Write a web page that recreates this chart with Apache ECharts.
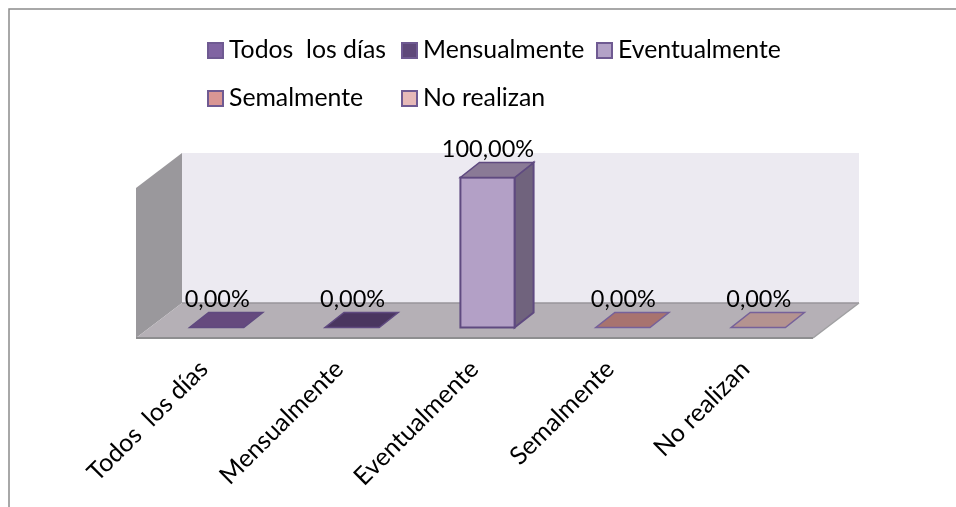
<!DOCTYPE html>
<html>
<head>
<meta charset="utf-8">
<style>html,body{margin:0;padding:0;background:#fff}#c{width:956px;height:507px}</style>
<script src="https://cdn.jsdelivr.net/npm/echarts@6/dist/echarts.min.js"></script>
</head>
<body>
<div id="c"></div>
<script>
const categories = ['Todos  los días', 'Mensualmente', 'Eventualmente', 'Semalmente', 'No realizan'];
const values = [0, 0, 100, 0, 0];
const valueLabels = ['0,00%', '0,00%', '100,00%', '0,00%', '0,00%'];
const legendColors = ['#8064A2', '#5F497A', '#B3A2C7', '#D99694', '#E6B9B8'];
const frontColors = ['#7A5F9A', '#5A4674', '#B3A0C6', '#C98C8A', '#D4AAA8'];
const topColors = ['#654A7E', '#4A3660', '#8A7A96', '#A8736F', '#B49390'];
const sideColors = ['#56406C', '#3E2D50', '#70637D', '#8C605C', '#967A78'];
const legendLefts = [207, 401, 596, 207, 401];
const legendTops = [38, 38, 38, 86, 86];

const FONT = 'Lato, "Noto Sans", sans-serif';
const DEPTH_X = 46, DEPTH_Y = 35;      // depth of the floor
const BAR_DX = 19, BAR_DY = 15;        // depth of a bar
const OFF_X = 13, OFF_Y = -10.5;       // bars stand in the middle of the floor

function poly(points, fill, stroke, lw) {
  return { type: 'polygon', shape: { points }, style: { fill, stroke: stroke || null, lineWidth: lw || 0 } };
}

function renderRoom(params) {
  const c = params.coordSys;
  const l = c.x, r = c.x + c.width, b = c.y + c.height, t = c.y;
  return {
    type: 'group',
    children: [
      poly([[l + DEPTH_X, t - DEPTH_Y], [r + DEPTH_X, t - DEPTH_Y], [r + DEPTH_X, b - DEPTH_Y], [l + DEPTH_X, b - DEPTH_Y]], '#ECEAF1'),
      poly([[l, t], [l + DEPTH_X, t - DEPTH_Y], [l + DEPTH_X, b - DEPTH_Y], [l, b]], '#9A989C'),
      poly([[l, b], [r, b], [r + DEPTH_X, b - DEPTH_Y], [l + DEPTH_X, b - DEPTH_Y]], '#B5B0B6'),
      { type: 'line', shape: { x1: l + DEPTH_X, y1: b - DEPTH_Y, x2: r + DEPTH_X, y2: b - DEPTH_Y }, style: { stroke: '#98959A', lineWidth: 1.5 } },
      { type: 'line', shape: { x1: l, y1: b, x2: r, y2: b }, style: { stroke: '#8E8E90', lineWidth: 2 } },
      { type: 'line', shape: { x1: r, y1: b, x2: r + DEPTH_X, y2: b - DEPTH_Y }, style: { stroke: '#A0A0A2', lineWidth: 1.5 } }
    ]
  };
}

function renderBar(i) {
  return function (params, api) {
    const top = api.coord([api.value(0), api.value(1)]);
    const base = api.coord([api.value(0), 0]);
    const w = api.size([1, 0])[0] * 0.4;
    const x0 = top[0] + OFF_X - w / 2, x1 = x0 + w;
    const yT = top[1] + OFF_Y, yB = base[1] + OFF_Y;
    const stroke = '#5F4A80';
    const children = [];
    if (yB - yT > 0.5) {
      children.push(poly([[x1, yT], [x1 + BAR_DX, yT - BAR_DY], [x1 + BAR_DX, yB - BAR_DY], [x1, yB]], sideColors[i], stroke, 2));
      children.push(poly([[x0, yT], [x1, yT], [x1, yB], [x0, yB]], frontColors[i], stroke, 2));
    }
    children.push(poly([[x0, yT], [x1, yT], [x1 + BAR_DX, yT - BAR_DY], [x0 + BAR_DX, yT - BAR_DY]], topColors[i], i === 0 || i === 1 || i === 2 ? stroke : '#76619A', 1.5));
    children.push({
      type: 'text',
      z2: 10,
      style: {
        text: valueLabels[i],
        x: x0 + w / 2 + 0.5,
        y: yT - 28,
        align: 'center',
        verticalAlign: 'middle',
        fill: '#000',
        font: '23.5px ' + FONT
      }
    });
    return { type: 'group', children };
  };
}

const series = [{
  type: 'custom',
  name: 'room',
  silent: true,
  z: 1,
  data: [[0, 0]],
  renderItem: renderRoom
}];
categories.forEach((name, i) => {
  series.push({
    type: 'custom',
    name,
    z: 2,
    itemStyle: { color: legendColors[i] },
    encode: { x: 0, y: 1 },
    data: [[i, values[i]]],
    renderItem: renderBar(i)
  });
});

const option = {
  animation: false,
  backgroundColor: '#fff',
  grid: { left: 136, top: 188, width: 677, height: 150 },
  xAxis: {
    type: 'category',
    data: categories,
    axisLine: { show: false },
    axisTick: { show: false },
    axisLabel: { rotate: 45, margin: 27, fontSize: 25, fontFamily: FONT, color: '#000', interval: 0 }
  },
  yAxis: { type: 'value', min: 0, max: 100, show: false },
  legend: categories.map((name, i) => ({
    left: legendLefts[i],
    top: legendTops[i],
    padding: 0,
    data: [name],
    icon: 'rect',
    itemWidth: 15,
    itemHeight: 15,
    selectedMode: false,
    itemStyle: { color: legendColors[i], borderColor: '#6F5A92', borderWidth: 2 },
    textStyle: { fontSize: 24.8, fontFamily: FONT, color: '#000', padding: [0, 0, 0, 1] }
  })),
  graphic: [{
    type: 'polyline',
    silent: true,
    shape: { points: [[9, 507], [9, 9], [956, 9]] },
    style: { stroke: '#8C8C8C', fill: null, lineWidth: 1.5 }
  }],
  series
};

echarts.init(document.getElementById('c')).setOption(option);
</script>
</body>
</html>
